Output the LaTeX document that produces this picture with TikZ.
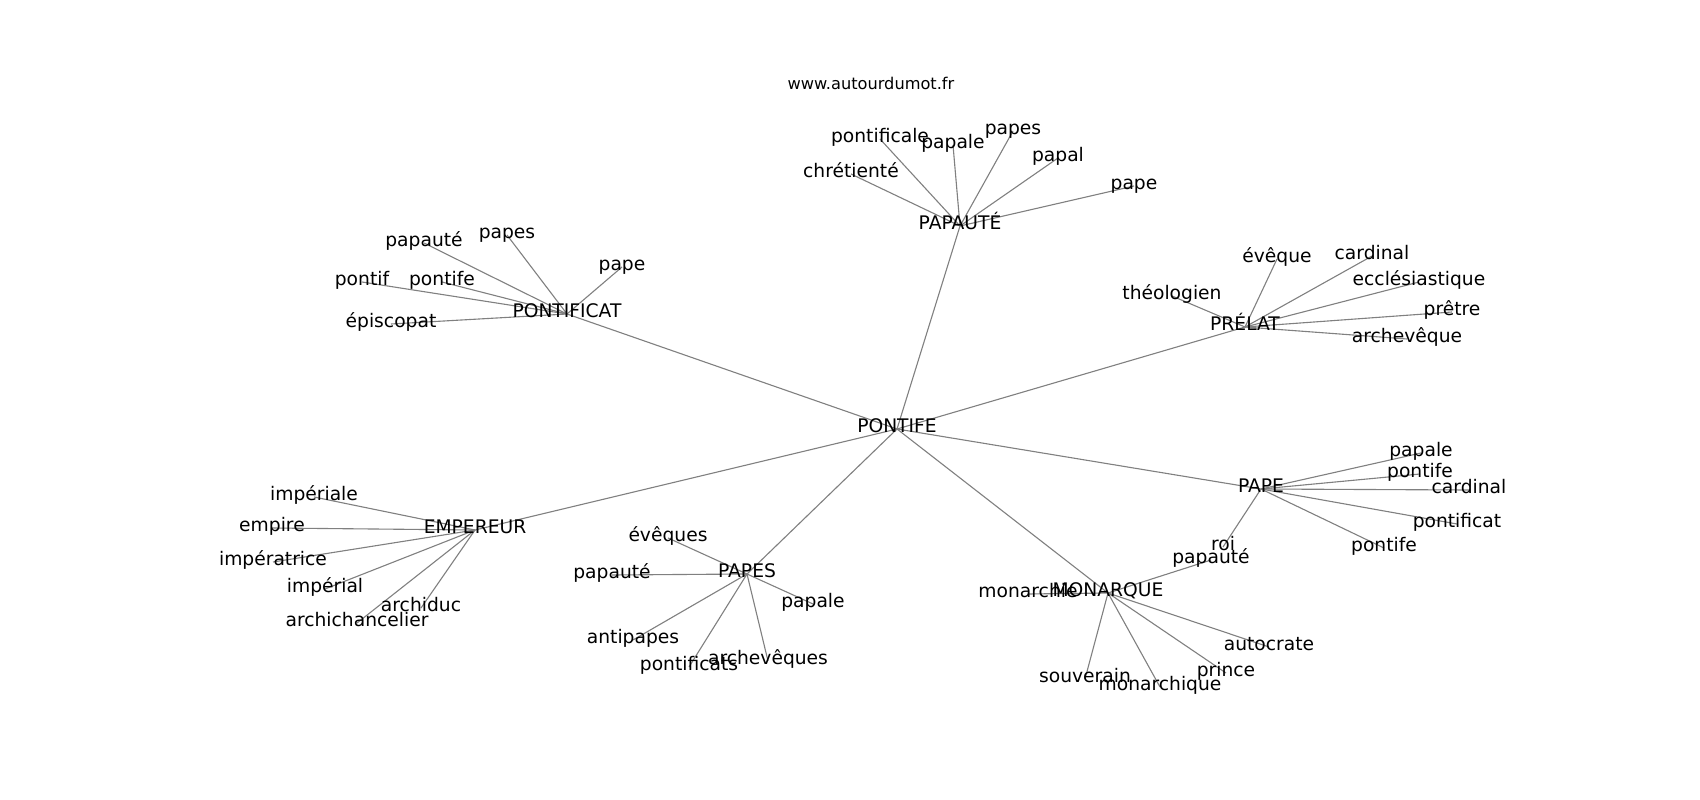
\documentclass[tikz,border=0pt]{standalone}
\usepackage{fontspec}
\setmainfont{DejaVu Sans}
\usetikzlibrary{backgrounds}
\begin{document}
\begin{tikzpicture}[x=0.01in, y=-0.01in,
        every node/.style={inner sep=0pt, text height=0.76em, text depth=0.24em, font=\fontsize{13.5}{16}\selectfont},
        edge/.style={draw=gray, line width=0.8pt}]
        \useasboundingbox (0, -3) rectangle (1700, 797);
        \draw (871, 83) node[font=\fontsize{11.7}{14}\selectfont](site){www.autourdumot.fr};
        % hubs
        \draw (897, 426) node[](pnt){PONTIFE};
        \draw (960, 223) node[](ppt){PAPAUTÉ};
        \draw (567, 311) node[](ptc){PONTIFICAT};
        \draw (1245, 324) node[](prl){PRÉLAT};
        \draw (1261, 486) node[](pap){PAPE};
        \draw (1108, 590) node[](mon){MONARQUE};
        \draw (747, 571) node[](pps){PAPES};
        \draw (475, 527) node[](emp){EMPEREUR};
        % around PAPAUTÉ
        \draw (880, 136) node[](ppt1){pontificale};
        \draw (953, 142) node[](ppt2){papale};
        \draw (1013, 128) node[](ppt3){papes};
        \draw (1058, 155) node[](ppt4){papal};
        \draw (1134, 183) node[](ppt5){pape};
        \draw (851, 171) node[](ppt6){chrétienté};
        % around PONTIFICAT
        \draw (424, 240) node[](ptc1){papauté};
        \draw (507, 232) node[](ptc2){papes};
        \draw (622, 264) node[](ptc3){pape};
        \draw (362, 279) node[](ptc4){pontif};
        \draw (442, 279) node[](ptc5){pontife};
        \draw (391, 321) node[](ptc6){épiscopat};
        % around PRÉLAT
        \draw (1277, 256) node[](prl1){évêque};
        \draw (1372, 253) node[](prl2){cardinal};
        \draw (1419, 279) node[](prl3){ecclésiastique};
        \draw (1172, 293) node[](prl4){théologien};
        \draw (1452, 309) node[](prl5){prêtre};
        \draw (1407, 336) node[](prl6){archevêque};
        % around PAPE
        \draw (1421, 450) node[](pap1){papale};
        \draw (1420, 471) node[](pap2){pontife};
        \draw (1469, 487) node[](pap3){cardinal};
        \draw (1457, 521) node[](pap4){pontificat};
        \draw (1384, 545) node[](pap5){pontife};
        \draw (1223, 544) node[](pap6){roi};
        % around MONARQUE
        \draw (1211, 557) node[](mon1){papauté};
        \draw (1028, 591) node[](mon2){monarchie};
        \draw (1269, 644) node[](mon3){autocrate};
        \draw (1226, 670) node[](mon4){prince};
        \draw (1085, 676) node[](mon5){souverain};
        \draw (1160, 684) node[](mon6){monarchique};
        % around PAPES
        \draw (668, 535) node[](pps1){évêques};
        \draw (612, 572) node[](pps2){papauté};
        \draw (813, 601) node[](pps3){papale};
        \draw (633, 637) node[](pps4){antipapes};
        \draw (689, 664) node[](pps5){pontificats};
        \draw (768, 658) node[](pps6){archevêques};
        % around EMPEREUR
        \draw (314, 494) node[](emp1){impériale};
        \draw (272, 525) node[](emp2){empire};
        \draw (273, 559) node[](emp3){impératrice};
        \draw (325, 586) node[](emp4){impérial};
        \draw (421, 605) node[](emp5){archiduc};
        \draw (357, 620) node[](emp6){archichancelier};
        \begin{scope}[on background layer]
        \draw[edge] (pnt.center) -- (ppt.center);
        \draw[edge] (pnt.center) -- (ptc.center);
        \draw[edge] (pnt.center) -- (prl.center);
        \draw[edge] (pnt.center) -- (pap.center);
        \draw[edge] (pnt.center) -- (mon.center);
        \draw[edge] (pnt.center) -- (pps.center);
        \draw[edge] (pnt.center) -- (emp.center);
        \draw[edge] (ppt.center) -- (ppt1.center);
        \draw[edge] (ppt.center) -- (ppt2.center);
        \draw[edge] (ppt.center) -- (ppt3.center);
        \draw[edge] (ppt.center) -- (ppt4.center);
        \draw[edge] (ppt.center) -- (ppt5.center);
        \draw[edge] (ppt.center) -- (ppt6.center);
        \draw[edge] (ptc.center) -- (ptc1.center);
        \draw[edge] (ptc.center) -- (ptc2.center);
        \draw[edge] (ptc.center) -- (ptc3.center);
        \draw[edge] (ptc.center) -- (ptc4.center);
        \draw[edge] (ptc.center) -- (ptc5.center);
        \draw[edge] (ptc.center) -- (ptc6.center);
        \draw[edge] (prl.center) -- (prl1.center);
        \draw[edge] (prl.center) -- (prl2.center);
        \draw[edge] (prl.center) -- (prl3.center);
        \draw[edge] (prl.center) -- (prl4.center);
        \draw[edge] (prl.center) -- (prl5.center);
        \draw[edge] (prl.center) -- (prl6.center);
        \draw[edge] (pap.center) -- (pap1.center);
        \draw[edge] (pap.center) -- (pap2.center);
        \draw[edge] (pap.center) -- (pap3.center);
        \draw[edge] (pap.center) -- (pap4.center);
        \draw[edge] (pap.center) -- (pap5.center);
        \draw[edge] (pap.center) -- (pap6.center);
        \draw[edge] (mon.center) -- (mon1.center);
        \draw[edge] (mon.center) -- (mon2.center);
        \draw[edge] (mon.center) -- (mon3.center);
        \draw[edge] (mon.center) -- (mon4.center);
        \draw[edge] (mon.center) -- (mon5.center);
        \draw[edge] (mon.center) -- (mon6.center);
        \draw[edge] (pps.center) -- (pps1.center);
        \draw[edge] (pps.center) -- (pps2.center);
        \draw[edge] (pps.center) -- (pps3.center);
        \draw[edge] (pps.center) -- (pps4.center);
        \draw[edge] (pps.center) -- (pps5.center);
        \draw[edge] (pps.center) -- (pps6.center);
        \draw[edge] (emp.center) -- (emp1.center);
        \draw[edge] (emp.center) -- (emp2.center);
        \draw[edge] (emp.center) -- (emp3.center);
        \draw[edge] (emp.center) -- (emp4.center);
        \draw[edge] (emp.center) -- (emp5.center);
        \draw[edge] (emp.center) -- (emp6.center);
        \end{scope}
    \end{tikzpicture}
\end{document}
